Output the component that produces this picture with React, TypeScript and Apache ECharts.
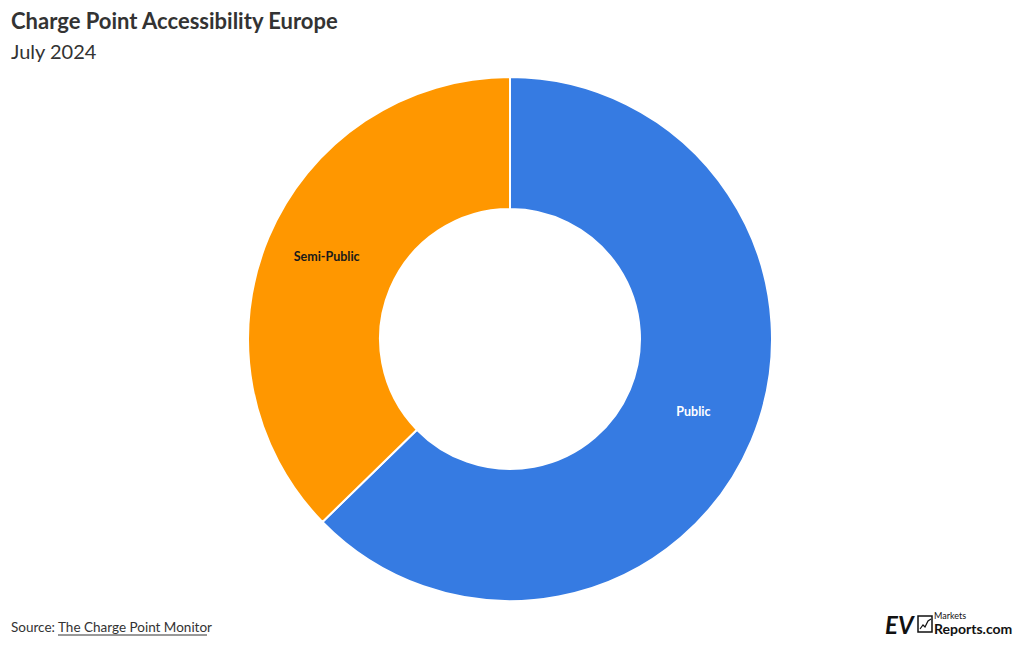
import React, { useEffect, useRef } from "react";
import * as echarts from "echarts";

const categories = ["Public", "Semi-Public"];
const values = [62.7, 37.3];
const colors = ["#367BE2", "#FF9700"];
const labelColors = ["#ffffff", "#1a1a1a"];

const FONT = "Lato, 'Noto Sans', sans-serif";

export default function App() {
  const ref = useRef<HTMLDivElement>(null);
  useEffect(() => {
    const chart = echarts.init(ref.current!, null, { renderer: "svg" });
    chart.setOption({
      animation: false,
      backgroundColor: "#ffffff",
      title: [
        {
          text: "Charge Point Accessibility Europe",
          left: 11,
          top: 9,
          padding: 0,
          textStyle: { fontFamily: FONT, fontSize: 22, fontWeight: "bold", color: "#333333" },
        },
        {
          text: "July 2024",
          left: 11,
          top: 41,
          padding: 0,
          textStyle: { fontFamily: FONT, fontSize: 20, fontWeight: "normal", color: "#333333" },
        },
      ],
      series: [
        {
          type: "pie",
          center: [510, 339],
          radius: [130, 262],
          startAngle: 90,
          clockwise: true,
          itemStyle: { borderColor: "#ffffff", borderWidth: 2 },
          label: {
            show: true,
            position: "inside",
            fontFamily: FONT,
            fontSize: 12.5,
            fontWeight: "bold",
            formatter: "{b}",
          },
          labelLayout: (p: any) => ({ y: p.labelRect.y + p.labelRect.height / 2 - 5 }),
          labelLine: { show: false },
          emphasis: { disabled: true },
          data: categories.map((c, i) => ({
            name: c,
            value: values[i],
            itemStyle: { color: colors[i] },
            label: { color: labelColors[i] },
          })),
        },
      ],
      graphic: [
        {
          type: "text",
          left: 11,
          top: 620,
          style: { text: "Source:", font: `13.5px ${FONT}`, fill: "#333333" },
        },
        {
          type: "text",
          left: 58,
          top: 620,
          style: { text: "The Charge Point Monitor", font: `13.5px ${FONT}`, fill: "#333333" },
        },
        {
          type: "line",
          shape: { x1: 58, y1: 635, x2: 207, y2: 635 },
          style: { stroke: "#333333", lineWidth: 1 },
        },
        {
          type: "text",
          left: 885,
          top: 612,
          style: { text: "EV", font: `italic bold 24px ${FONT}`, fill: "#111111" },
        },
        {
          type: "rect",
          shape: { x: 918, y: 616, width: 14, height: 16 },
          style: { fill: "none", stroke: "#111111", lineWidth: 1.5 },
        },
        {
          type: "polyline",
          shape: { points: [[920, 629], [923, 625], [925, 627], [928, 621], [931, 619]] },
          style: { fill: "none", stroke: "#111111", lineWidth: 1.2 },
        },
        {
          type: "text",
          left: 934,
          top: 611,
          style: { text: "Markets", font: `9px ${FONT}`, fill: "#111111" },
        },
        {
          type: "text",
          left: 934,
          top: 621,
          style: { text: "Reports.com", font: `bold 14px ${FONT}`, fill: "#111111" },
        },
      ],
    });
    return () => chart.dispose();
  }, []);
  return <div ref={ref} style={{ width: 1020, height: 650, position: "absolute", left: 0, top: 0 }} />;
}
